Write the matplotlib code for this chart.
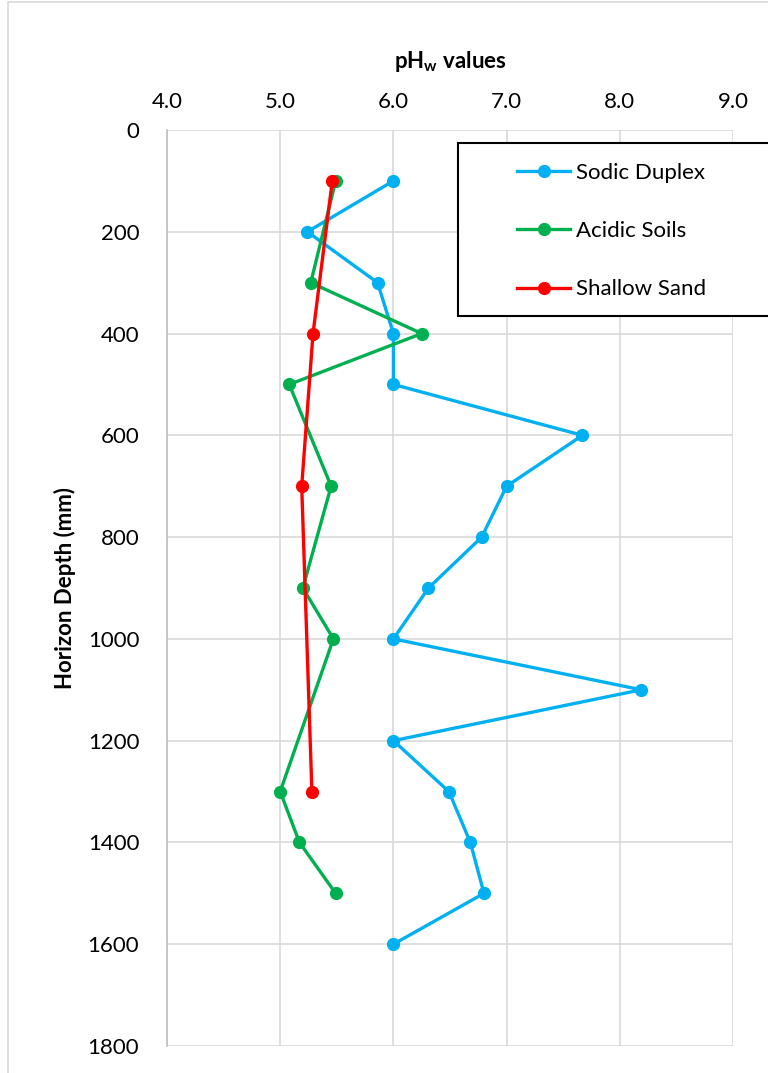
import matplotlib
matplotlib.use("Agg")
import matplotlib.pyplot as plt
from matplotlib.patches import Rectangle

plt.rcParams['font.family'] = ['Lato', 'DejaVu Sans']

sodic_depth = [100, 200, 300, 400, 500, 600, 700, 800, 900, 1000, 1100, 1200, 1300, 1400, 1500, 1600]
sodic_ph = [6.0, 5.24, 5.86, 6.0, 6.0, 7.67, 7.0, 6.78, 6.31, 6.0, 8.19, 6.0, 6.49, 6.68, 6.8, 6.0]

acidic_depth = [100, 300, 400, 500, 700, 900, 1000, 1300, 1400, 1500]
acidic_ph = [5.49, 5.27, 6.25, 5.08, 5.45, 5.2, 5.47, 5.0, 5.17, 5.49]

sand_depth = [100, 400, 700, 1300]
sand_ph = [5.46, 5.29, 5.19, 5.28]

x_ticks = [4.0, 5.0, 6.0, 7.0, 8.0, 9.0]
y_ticks = [0, 200, 400, 600, 800, 1000, 1200, 1400, 1600, 1800]

W, H = 768, 1073
fig = plt.figure(figsize=(W/100, H/100), dpi=100)
fig.patches.append(Rectangle((8/W, -0.1), 1.2, 1.1 - 2/H, transform=fig.transFigure,
                             fill=False, edgecolor='#d9d9d9', linewidth=1.2))

ax = fig.add_axes([167/W, 1 - 1046/H, (733-167)/W, (1046-130)/H])
kw = dict(linewidth=2.4, marker='o', markersize=8.5)
ax.plot(sodic_ph, sodic_depth, color='#00B0F0', label='Sodic Duplex', **kw)
ax.plot(acidic_ph, acidic_depth, color='#00B050', label='Acidic Soils', **kw)
ax.plot(sand_ph, sand_depth, color='#FF0000', label='Shallow Sand', **kw)

ax.set_xlim(4.0, 9.0)
ax.set_ylim(1800, 0)
ax.set_xticks(x_ticks)
ax.set_xticklabels([f"{v:.1f}" for v in x_ticks])
ax.set_yticks(y_ticks)
ax.set_yticklabels([str(v) for v in y_ticks])
ax.xaxis.tick_top()
ax.xaxis.set_label_position('top')
ax.tick_params(axis='both', length=0, labelsize=16, colors='black')
ax.tick_params(axis='x', pad=13)
ax.tick_params(axis='y', pad=20)
ax.grid(True, color='#d9d9d9', linewidth=1.2)
ax.set_axisbelow(True)
for s in ['top', 'right', 'bottom']:
    ax.spines[s].set_visible(False)
ax.spines['left'].set_color('#bfbfbf')
ax.spines['left'].set_linewidth(1.2)

ax.set_xlabel(r'pH$_\mathregular{w}$ values', fontsize=16, fontweight='bold', labelpad=17)
ax.set_ylabel('Horizon Depth (mm)', fontsize=16, fontweight='bold', labelpad=8)

# legend frame (extends past the right edge as in the reference)
fig.patches.append(Rectangle((458/W, 1 - 316/H), 330/W, 173/H, transform=fig.transFigure,
                             facecolor='white', edgecolor='black', linewidth=1.5, zorder=5))
leg = fig.legend(loc='upper left', bbox_to_anchor=(517/W, 1 - 163/H), fontsize=16,
                 frameon=False, borderpad=0, labelspacing=1.72, handlelength=2.4,
                 handletextpad=0.25, borderaxespad=0)
leg.set_zorder(6)

fig.savefig('out.png', dpi=100)
